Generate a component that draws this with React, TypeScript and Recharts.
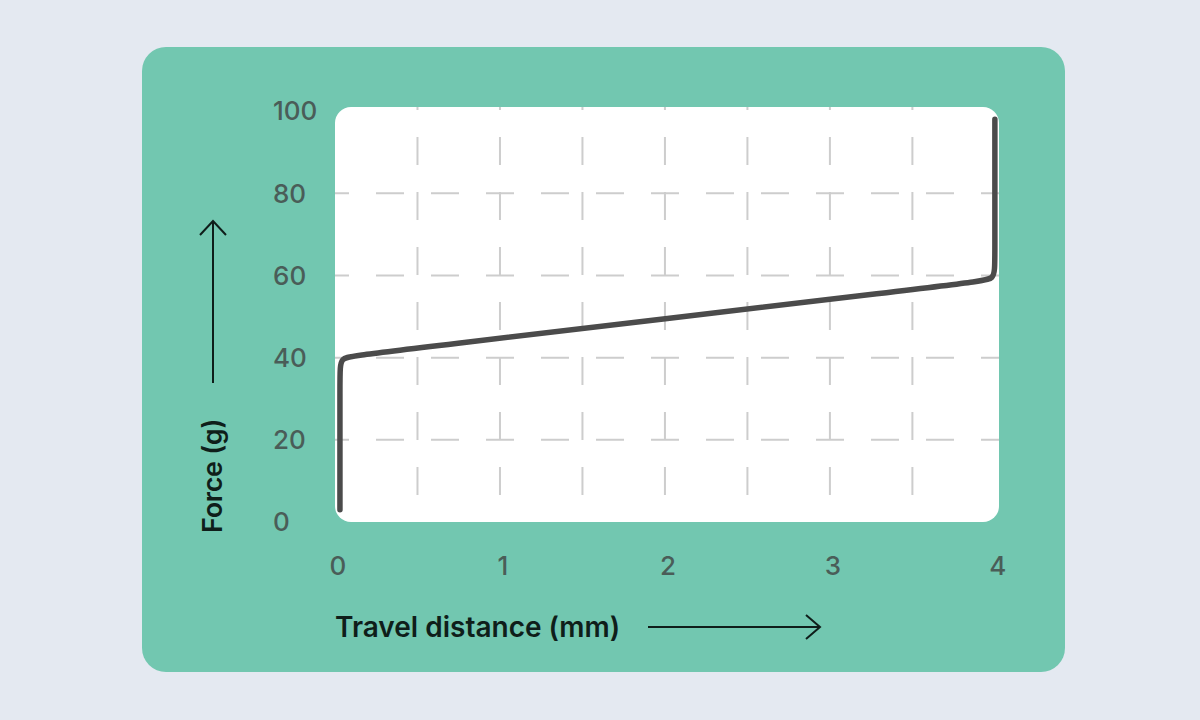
import { LineChart, Line, XAxis, YAxis, ReferenceLine, ReferenceArea } from "recharts";

// force curve of a linear switch
const travel = [0.03, 0.03, 0.03, 0.14, 3.89, 4, 4, 4];
const force = [3, 36, 40.1, 40.65, 58.4, 59, 63, 98];

const xTicks = [0, 1, 2, 3, 4];
const yTicks = [0, 20, 40, 60, 80, 100];
const gridX = [0.5, 1, 1.5, 2, 2.5, 3, 3.5];
const gridY = [20, 40, 60, 80];

const data = travel.map((t, i) => ({ travel: t, force: force[i] }));

const FONT = "Inter, 'Noto Sans', sans-serif";
const TICK_COLOR = "#4a5d58";
const TITLE_COLOR = "#0f1e1a";

const YTick = (props: any) => {
  const { x, y, payload } = props;
  return (
    <text x={x - 62} y={y} dy="0.36em" textAnchor="start" fill={TICK_COLOR} fontSize={26} fontWeight={500} fontFamily={FONT}>
      {payload.value}
    </text>
  );
};

const XTick = (props: any) => {
  const { x, y, payload } = props;
  return (
    <text x={x + 3} y={y + 44} dy="0.36em" textAnchor="middle" fill={TICK_COLOR} fontSize={26} fontWeight={500} fontFamily={FONT}>
      {payload.value}
    </text>
  );
};

const XTitle = (props: any) => {
  const { x, y } = props.viewBox;
  const base = y + 105;
  const a0 = x + 313;
  const a1 = x + 485;
  return (
    <g>
      <text x={x} y={base} dy="0.36em" fill={TITLE_COLOR} fontSize={28} fontWeight={600} fontFamily={FONT}>
        Travel distance (mm)
      </text>
      <line x1={a0} x2={a1} y1={base} y2={base} stroke={TITLE_COLOR} strokeWidth={2} />
      <polyline points={`${a1 - 14},${base - 12} ${a1},${base} ${a1 - 14},${base + 12}`} fill="none" stroke={TITLE_COLOR} strokeWidth={2} />
    </g>
  );
};

const YTitle = (props: any) => {
  const { x, y, width, height } = props.viewBox;
  const cx = x + width - 123;
  const start = y + height + 11;
  const tip = y + 114;
  const tail = y + 276;
  return (
    <g>
      <text x={cx} y={start} dy="0.36em" transform={`rotate(-90 ${cx} ${start})`} fill={TITLE_COLOR} fontSize={27} fontWeight={600} fontFamily={FONT} letterSpacing={-0.3}>
        Force (g)
      </text>
      <line x1={cx + 1} x2={cx + 1} y1={tail} y2={tip} stroke={TITLE_COLOR} strokeWidth={2} />
      <polyline points={`${cx + 1 - 13},${tip + 14} ${cx + 1},${tip} ${cx + 1 + 13},${tip + 14}`} fill="none" stroke={TITLE_COLOR} strokeWidth={2} />
    </g>
  );
};

export default function App() {
  return (
    <div style={{ position: "absolute", left: 0, top: 0, width: 1200, height: 720, background: "#e4e9f1" }}>
      <div style={{ position: "absolute", left: 142, top: 47, width: 923, height: 625, borderRadius: 24, background: "#72c7b0" }}>
        <LineChart width={923} height={625} data={data} margin={{ top: 60, right: 66, left: 93, bottom: 50 }}>
          <ReferenceArea x1={0} x2={4.025} y1={0} y2={101} fill="#ffffff" fillOpacity={1} stroke="none" radius={16} ifOverflow="visible" />
          {gridX.map((v) => (
            <ReferenceLine key={"gx" + v} x={v} stroke="#cdcdcd" strokeWidth={2} strokeDasharray="28 27" strokeDashoffset={28} />
          ))}
          {gridY.map((v) => (
            <ReferenceLine key={"gy" + v} y={v} stroke="#cdcdcd" strokeWidth={2} strokeDasharray="28 27" strokeDashoffset={14} />
          ))}
          <XAxis
            dataKey="travel"
            type="number"
            domain={[0, 4.025]}
            ticks={xTicks}
            axisLine={false}
            tickLine={false}
            tickSize={0}
            tickMargin={0}
            height={100}
            tick={<XTick />}
            label={{ content: <XTitle /> }}
          />
          <YAxis
            type="number"
            domain={[0, 101]}
            ticks={yTicks}
            axisLine={false}
            tickLine={false}
            tickSize={0}
            tickMargin={0}
            width={100}
            tick={<YTick />}
            label={{ content: <YTitle /> }}
          />
          <Line
            dataKey="force"
            type="basis"
            stroke="#4b4b4b"
            strokeWidth={5.5}
            strokeLinecap="round"
            dot={false}
            activeDot={false}
            isAnimationActive={false}
          />
        </LineChart>
      </div>
    </div>
  );
}
